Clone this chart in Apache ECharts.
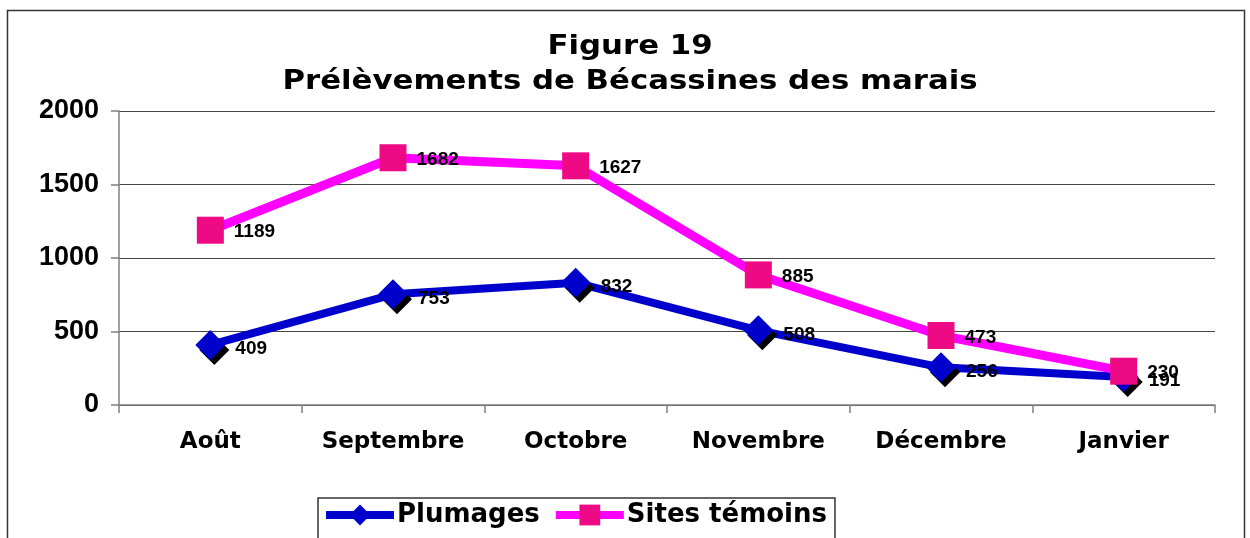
<!DOCTYPE html>
<html>
<head>
<meta charset="utf-8">
<script src="https://cdn.jsdelivr.net/npm/echarts@6/dist/echarts.min.js"></script>
<style>
  html, body { margin: 0; padding: 0; background: #fff; }
  #box { width: 1250px; height: 538px; }
</style>
</head>
<body>
<div id="box"></div>
<script>
var months = ['Août', 'Septembre', 'Octobre', 'Novembre', 'Décembre', 'Janvier']
var plumages = [409, 753, 832, 508, 256, 191]
var sitesTemoins = [1189, 1682, 1627, 885, 473, 230]
var yTicks = [0, 500, 1000, 1500, 2000]
var titleLines = ['Figure 19', 'Prélèvements de Bécassines des marais']

var Chart = echarts.init(document.getElementById('box'))

var labelStyle = {
    show: true,
    position: 'right',
    distance: 10,
    color: '#000',
    fontFamily: 'Liberation Sans',
    fontWeight: 'bold',
    fontSize: 19,
    letterSpacing: -1.5
}

// title drawn as graphic text so it can be stretched a bit (Verdana is wider than DejaVu)
var titleFont = 'bold 27px "DejaVu Sans"'

var option = {
    animation: false,
    backgroundColor: '#fff',
    graphic: [{
        type: 'rect',
        shape: { x: 7.5, y: 10.5, width: 1237, height: 600 },
        style: { fill: 'none', stroke: '#333', lineWidth: 1.5 },
        z: -1
    }, {
        type: 'text',
        x: 630,
        y: 47,
        scaleX: 1.14,
        style: { text: titleLines[0], font: titleFont, fill: '#000', align: 'center', verticalAlign: 'middle' }
    }, {
        type: 'text',
        x: 630,
        y: 82,
        scaleX: 1.14,
        style: { text: titleLines[1], font: titleFont, fill: '#000', align: 'center', verticalAlign: 'middle' }
    }],
    legend: {
        top: 498,
        left: 318,
        itemGap: 12,
        itemWidth: 68,
        itemHeight: 26,
        padding: [4, 8, 20, 4],
        borderColor: '#333',
        borderWidth: 1.5,
        lineStyle: { width: 8 },
        itemStyle: { shadowBlur: 0, shadowOffsetX: 0, shadowOffsetY: 0, shadowColor: 'transparent' },
        textStyle: {
            fontFamily: 'DejaVu Sans',
            fontWeight: 'bold',
            fontSize: 26,
            color: '#000',
            padding: [0, 0, 0, -2]
        },
        data: ['Plumages', 'Sites témoins']
    },
    grid: {
        left: 119,
        right: 35,
        top: 111,
        bottom: 133
    },
    xAxis: {
        type: 'category',
        data: months,
        boundaryGap: true,
        axisLine: { lineStyle: { color: '#808080', width: 1.5 } },
        axisTick: { show: true, length: 8, lineStyle: { color: '#808080', width: 1.5 } },
        axisLabel: {
            interval: 0,
            margin: 26,
            fontFamily: 'DejaVu Sans',
            fontWeight: 'bold',
            fontSize: 23,
            color: '#000'
        }
    },
    yAxis: {
        type: 'value',
        min: yTicks[0],
        max: yTicks[yTicks.length - 1],
        interval: 500,
        axisLine: { show: true, lineStyle: { color: '#808080', width: 1.5 } },
        axisTick: { show: true, length: 8, lineStyle: { color: '#808080', width: 1.5 } },
        splitLine: { show: true, lineStyle: { color: '#444', width: 1.2 } },
        axisLabel: {
            margin: 20,
            fontFamily: 'Liberation Sans',
            fontWeight: 'bold',
            fontSize: 27,
            color: '#000',
            formatter: function (v) { return String(v) }
        }
    },
    series: [{
        name: 'Plumages',
        type: 'line',
        data: plumages,
        symbol: 'diamond',
        symbolSize: 30,
        lineStyle: { color: '#0000CC', width: 8 },
        itemStyle: {
            color: '#0000CC',
            shadowColor: '#000',
            shadowBlur: 0,
            shadowOffsetX: 4,
            shadowOffsetY: 5
        },
        label: Object.assign({}, labelStyle, { offset: [0, 4] }),
        z: 2
    }, {
        name: 'Sites témoins',
        type: 'line',
        data: sitesTemoins,
        symbol: 'rect',
        symbolSize: 27,
        lineStyle: { color: '#FF00FF', width: 9 },
        itemStyle: { color: '#EE0A84' },
        label: Object.assign({}, labelStyle, { offset: [0, 2] }),
        z: 3
    }]
}
Chart.setOption(option)
</script>
</body>
</html>
